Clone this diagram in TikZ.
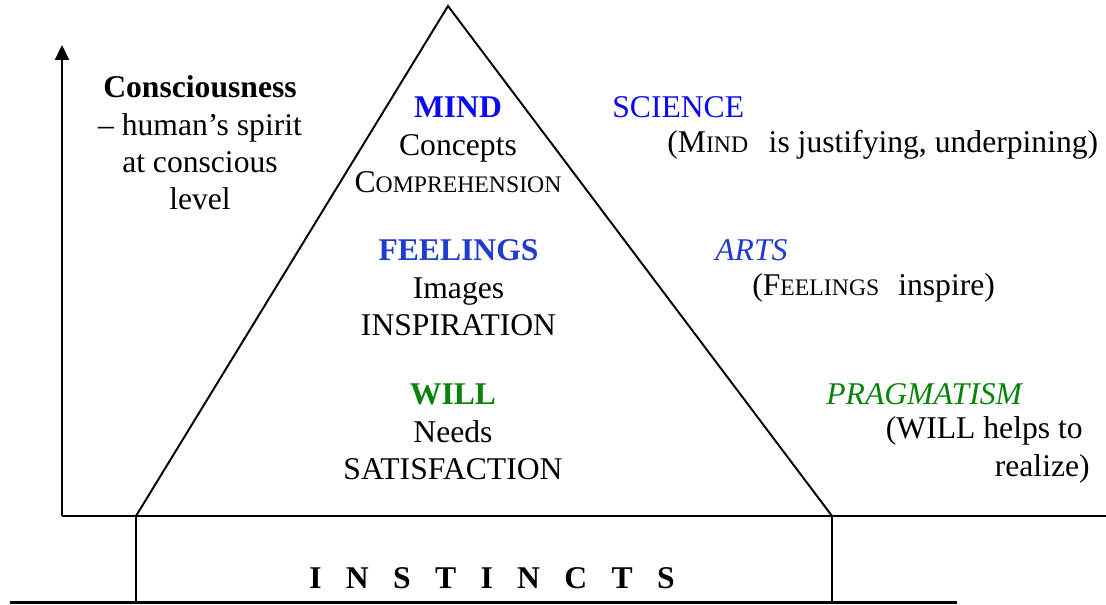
\documentclass[tikz,border=0pt]{standalone}
\usepackage{fontspec}
\setmainfont{Liberation Serif}
\usetikzlibrary{arrows.meta}

\definecolor{mindblue}{RGB}{10,10,240}
\definecolor{feelblue}{RGB}{30,60,205}
\definecolor{willgreen}{RGB}{10,130,10}
\newcommand{\smc}[1]{{\fontsize{13.5}{15}\selectfont #1}}
\newcommand{\gap}{\hspace{0.77em}}

\begin{document}
\begin{tikzpicture}[
       line/.style={line width=1.1pt, black},
       txt/.style={inner sep=0pt, font=\fontsize{18}{21.3}\selectfont},
       level/.style={txt, align=center},
       note/.style={txt, anchor=west}
   ]
   \useasboundingbox (0,0) rectangle (22.12,12.1);

   % ground and axes
   \coordinate (origin) at (1.24,1.78);
   \coordinate (top) at (1.24,11.2);
   \coordinate (far) at (22.12,1.78);
   \coordinate (apex) at (8.96,11.98);
   \coordinate (baseL) at (2.72,1.78);
   \coordinate (baseR) at (16.64,1.78);
   \coordinate (floorL) at (2.72,0.05);
   \coordinate (floorR) at (16.64,0.05);
   \coordinate (groundL) at (0.2,0.05);
   \coordinate (groundR) at (19.14,0.05);

   \draw[line, -{Triangle[length=3mm,width=2.8mm]}] (origin) -- (top);
   \draw[line] (origin) -- (far);
   \draw[line] (baseL) -- (apex) -- (baseR);
   \draw[line] (baseL) -- (floorL);
   \draw[line] (baseR) -- (floorR);
   \draw[line width=1.7pt] (groundL) -- (groundR);

   % levels of the pyramid
   \node[level] (conscious) at (4.0,9.24) {\textbf{Consciousness}\\ -- human's spirit\\ at conscious\\ level};
   \node[level] (mind) at (9.16,9.2) {\textcolor{mindblue}{\textbf{MIND}}\\ Concepts\\ C\smc{OMPREHENSION}};
   \node[level] (feelings) at (9.17,6.34) {\textcolor{feelblue}{\textbf{FEELINGS}}\\ Images\\ INSPIRATION};
   \node[level] (will) at (9.06,3.46) {\textcolor{willgreen}{\textbf{WILL}}\\ Needs\\ SATISFACTION};
   \node[txt] (instincts) at (9.84,0.54) {\textbf{I\gap N\gap S\gap T\gap I\gap N\gap C\gap T\gap S}};

   % domains on the right
   \node[note, text=mindblue] (science) at (12.24,9.96) {SCIENCE};
   \node[note] (sciencenote) at (13.34,9.2) {(M\smc{IND}\hspace{0.65em}is justifying, underpining)};
   \node[note, text=feelblue] (arts) at (14.3,7.1) {\textit{ARTS}};
   \node[note] (artsnote) at (15.04,6.34) {(F\smc{EELINGS}\hspace{0.6em}inspire)};
   \node[note, text=willgreen] (pragmatism) at (16.52,4.22) {\textit{PRAGMATISM}};
   \node[txt, align=right, anchor=east] (pragnote) at (21.8,3.1) {(WILL helps to\hspace*{0.14cm}\\ realize)};
\end{tikzpicture}
\end{document}
